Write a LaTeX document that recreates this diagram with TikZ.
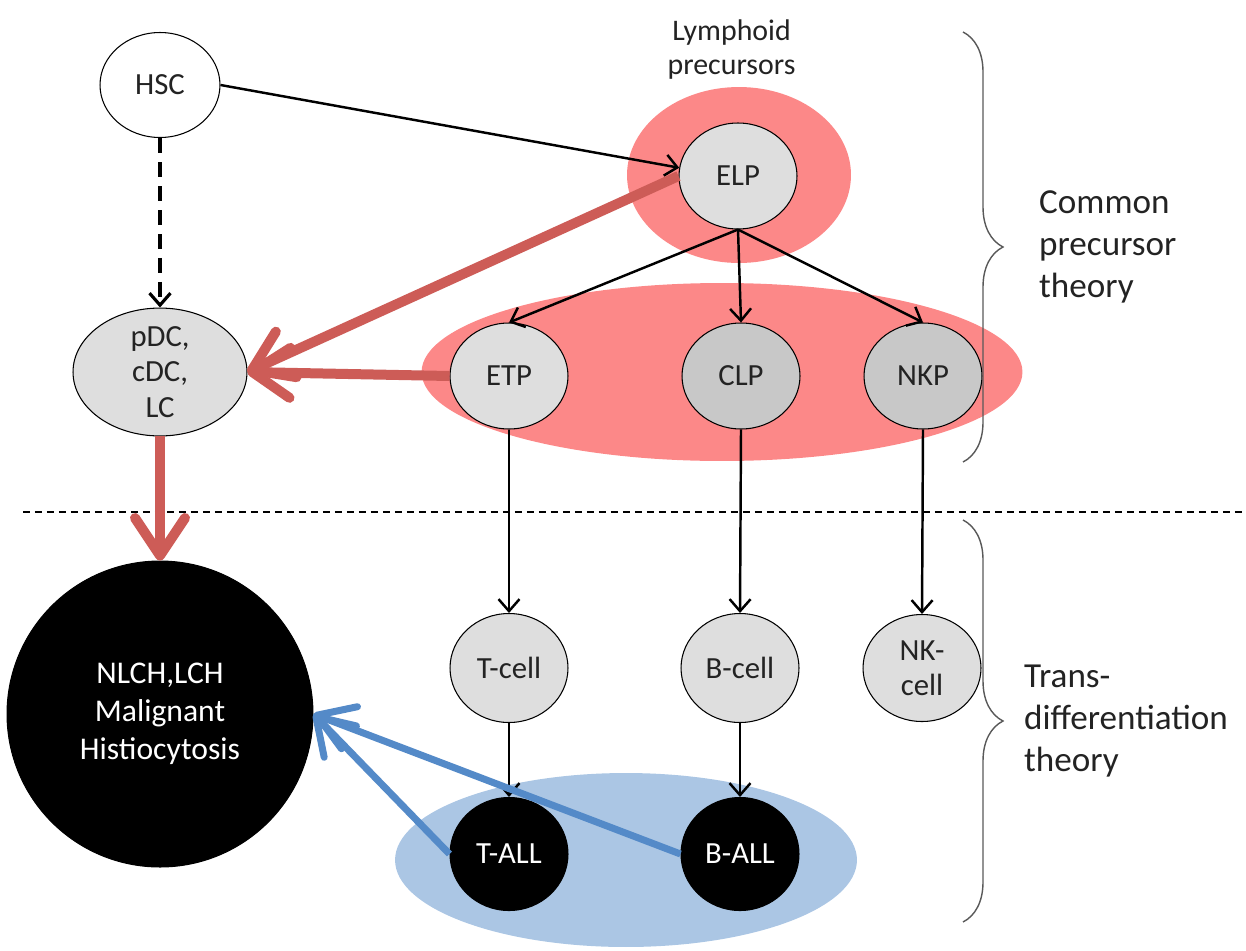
\documentclass[tikz,border=0pt]{standalone}
\usepackage{fontspec}
\setmainfont{Carlito}
\usetikzlibrary{shapes.geometric, arrows.meta, positioning, backgrounds, decorations.pathreplacing}
\definecolor{blobred}{RGB}{252,136,136}
\definecolor{arrowred}{RGB}{205,92,87}
\definecolor{blobblue}{RGB}{171,198,228}
\definecolor{arrowblue}{RGB}{84,138,200}
\definecolor{cellfill}{RGB}{222,222,222}
\definecolor{cellfilldark}{RGB}{200,200,200}
\definecolor{inktext}{RGB}{35,35,35}
\tikzset{
  cell/.style={ellipse, draw=black, line width=0.6pt, fill=cellfill,
               minimum width=2.36cm, minimum height=2.12cm, inner sep=0pt,
               align=center, text=inktext, font=\fontsize{17.5}{20}\selectfont},
  malignant/.style={cell, fill=black, text=white},
  blob/.style={ellipse, draw=none, inner sep=0pt},
  arrow/.style={-{Straight Barb[length=0.24cm, width=0.42cm]}, line width=1.4pt},
  redarrow/.style={-{Straight Barb[length=0.75cm, width=1.0cm, round]},
                   line width=0.2cm, color=arrowred},
  bluearrow/.style={-{Straight Barb[length=0.7cm, width=0.9cm, round]},
                    line width=0.14cm, color=arrowblue},
  theory/.style={align=left, anchor=west, text=inktext,
                 font=\fontsize{20}{24}\selectfont},
  bracket/.style={decorate, decoration={brace, amplitude=0.8cm},
                  line width=0.8pt, color=black!65},
}

\begin{document}
\begin{tikzpicture}[x=0.02cm, y=-0.02cm]
    \useasboundingbox (0,0) rectangle (1246,950);

    \node[cell, fill=white, minimum width=2.4cm, minimum height=2.1cm] (hsc) at (160,85) {HSC};
    \node[cell, minimum width=3.48cm, minimum height=2.26cm] (dc) at (160,372) {pDC,\\cDC,\\LC};
    \node[cell] (elp) at (738,176) {ELP};
    \node[cell] (etp) at (509,376) {ETP};
    \node[cell, fill=cellfilldark] (clp) at (741,376) {CLP};
    \node[cell, fill=cellfilldark] (nkp) at (923,376) {NKP};
    \node[cell, minimum height=2.18cm] (tcell) at (509,668) {T-cell};
    \node[cell, minimum height=2.18cm] (bcell) at (740,668) {B-cell};
    \node[cell, minimum height=2.14cm] (nkcell) at (922,668) {NK-\\cell};
    \node[malignant, minimum height=2.26cm] (tall) at (509,854) {T-ALL};
    \node[malignant, minimum height=2.26cm] (ball) at (740,854) {B-ALL};
    \node[malignant, circle, minimum size=6.12cm, font=\fontsize{18}{21.5}\selectfont]
          (nlch) at (160,714) {NLCH,LCH\\Malignant\\Histiocytosis};

    \begin{scope}[on background layer]
      \node[blob, fill=blobred, minimum width=4.48cm, minimum height=3.52cm] (elpblob) at (739,175) {};
      \node[blob, fill=blobred, minimum width=12.02cm, minimum height=3.56cm] (precblob) at (722,372) {};
      \node[blob, fill=blobblue, minimum width=9.24cm, minimum height=3.48cm] (allblob) at (626,860) {};
    \end{scope}

    \node[above=0.02cm of elpblob, xshift=-0.15cm, align=center, text=inktext,
          font=\fontsize{17}{19.5}\selectfont] (lymph) {Lymphoid\\precursors};

    \coordinate (divleft) at (23,512);
    \coordinate (divright) at (1246,512);
    \draw[dash pattern=on 0.14cm off 0.1cm, line width=0.8pt] (divleft) -- (divright);

    \coordinate (uptop) at (963,32);
    \coordinate (upbot) at (963,462);
    \coordinate (uptip) at (1003,247);
    \coordinate (lowtop) at (963,520);
    \coordinate (lowbot) at (963,922);
    \coordinate (lowtip) at (1003,721);
    \draw[bracket] (uptop) -- (upbot);
    \draw[bracket] (lowtop) -- (lowbot);
    \node[theory, right=0.6cm of uptip] (common) {Common\\precursor\\theory};
    \node[theory, right=0.3cm of lowtip] (trans) {Trans-\\differentiation\\theory};

    \draw[arrow] (hsc.east) -- (elp.172);
    \draw[arrow, line width=1.8pt, dash pattern=on 0.3cm off 0.18cm] (hsc.south) -- (dc.north);
    \draw[arrow] (elp.south) -- (etp.north);
    \draw[arrow] (elp.south) -- (clp.north);
    \draw[arrow] (elp.south) -- (nkp.north);
    \draw[arrow] (etp.south) -- (tcell.north);
    \draw[arrow] (clp.south) -- (bcell.north);
    \draw[arrow] (nkp.south) -- (nkcell.north);
    \draw[arrow] (tcell.south) -- (tall.north);
    \draw[arrow] (bcell.south) -- (ball.north);

    \draw[redarrow] (elp.west) -- (dc.east);
    \draw[redarrow] (etp.west) -- (dc.east);
    \draw[redarrow] (dc.south) -- (nlch.north);
    \draw[bluearrow] (tall.west) -- (nlch.east);
    \draw[bluearrow] (ball.west) -- (nlch.east);
  \end{tikzpicture}
\end{document}
